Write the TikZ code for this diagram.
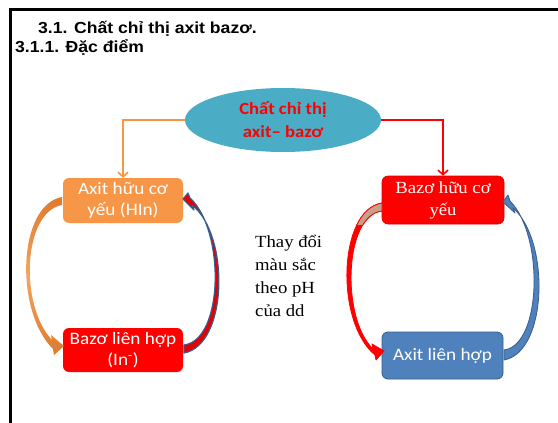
\documentclass[tikz,border=0pt]{standalone}
\usepackage{fontspec}
\setmainfont{Liberation Serif}[FakeStretch=1.1]
\newfontfamily\arialf{Liberation Sans}[FakeStretch=1.1]
\newfontfamily\calf{Carlito}[FakeStretch=1.1]
\usetikzlibrary{arrows.meta,shapes.geometric}
\definecolor{orgbox}{HTML}{F79646}
\definecolor{orgdark}{HTML}{DD7A2E}
\definecolor{orglight}{HTML}{F6A45C}
\definecolor{tealc}{HTML}{4BACC6}
\definecolor{bluec}{HTML}{4F81BD}
\definecolor{bluedark}{HTML}{385D8A}
\definecolor{redc}{HTML}{FF0000}
\definecolor{tanc}{HTML}{C9A08A}
\tikzset{
  boxbase/.style={rectangle, rounded corners=6pt, inner sep=0pt, align=center, text=white},
  calbox/.style={boxbase, font=\calf\fontsize{17.5}{21.5}\selectfont},
  timbox/.style={boxbase, font=\fontsize{17}{22}\selectfont},
  conn/.style={line width=2pt, -{Straight Barb[length=4.5pt,width=10pt,line width=1.6pt]}},
}
\begin{document}
\begin{tikzpicture}[x=1pt,y=-1pt]
\useasboundingbox (0,0) rectangle (558,423);
\fill[white] (0,0) rectangle (558,423);
% frame
\draw[line width=2.6pt] (10.7,423) -- (10.7,9.3) -- (558,9.3);
% titles
\node[anchor=base west, inner sep=0pt, font=\arialf\bfseries\fontsize{16}{19}\selectfont] (t1) at (38,33.5) {3.1. Chất chỉ thị axit bazơ.};
\node[anchor=base west, inner sep=0pt, font=\arialf\bfseries\fontsize{16}{19}\selectfont] (t2) at (15,52.7) {3.1.1. Đặc điểm};
% ellipse
\node[ellipse, fill=tealc, minimum width=196pt, minimum height=64pt, inner sep=0pt, align=center,
  text=redc, font=\calf\bfseries\fontsize{17}{23}\selectfont] (ell) at (283,120) {Chất chỉ thị\\axit– bazơ};
% boxes
\node[calbox, fill=orgbox, minimum width=120pt, minimum height=45pt] (hin) at (123,200.5) {Axit hữu cơ\\yếu (HIn)};
\node[calbox, fill=redc, minimum width=120pt, minimum height=44pt] (inm) at (123,350) {Bazơ liên hợp\\(In\textsuperscript{-})};
\node[timbox, fill=redc, draw=red!85!black, line width=0.6pt, minimum width=122pt, minimum height=48pt] (bz) at (443,200) {Bazơ hữu cơ\\yếu};
\node[calbox, fill=bluec, draw=bluedark, line width=0.8pt, minimum width=121pt, minimum height=47pt] (al) at (442.5,355.5) {Axit liên hợp};
% middle text
\node[anchor=north west, inner sep=0pt, align=left, font=\fontsize{17}{23}\selectfont] (mid) at (255,235) {Thay đổi\\màu sắc\\theo pH\\của dd};
% connectors
\draw[conn, draw=orgbox] (ell.west) -| (hin.north);
\draw[conn, draw=redc] (ell.east) -| (bz.north);
% left pair: orange curved arrow (HIn -> In-)
\shade[top color=orgdark, bottom color=orgdark, middle color=orglight]
  (62,197) .. controls (18,205) and (14,310) .. (53,349) -- (54,355) -- (64,346) -- (51,335) -- (52,340)
  .. controls (19,305) and (23,212) .. (62,205) -- cycle;
% left pair: red/blue curved arrow (In- -> HIn)
\filldraw[fill=red!90!black, draw=bluedark, line width=1.2pt, line join=round]
  (184,353) .. controls (228,345) and (230,235) .. (192,205) -- (194,210) -- (183,199) -- (188,193) -- (190,198)
  .. controls (225,230) and (224,340) .. (184,345) -- cycle;
% right pair: red curved arrow (Bazo -> Axit)
\filldraw[fill=redc, draw=redc, line width=0.8pt, line join=round]
  (382,203) .. controls (338,210) and (335,322) .. (375,355) -- (376,360) -- (384,351) -- (372,344) -- (373,349)
  .. controls (341,318) and (344,215) .. (382,211) -- cycle;
\begin{scope}
\clip (330,195) rectangle (383,224);
\filldraw[fill=tanc, draw=redc, line width=0.8pt]
  (382,203) .. controls (338,210) and (335,322) .. (375,355) -- (376,360) -- (384,351) -- (372,344) -- (373,349)
  .. controls (341,318) and (344,215) .. (382,211) -- cycle;
\end{scope}
% right pair: blue curved arrow (Axit -> Bazo)
\filldraw[fill=bluec, draw=bluedark, line width=0.8pt, line join=round]
  (504,360) .. controls (548,352) and (550,240) .. (513,208) -- (515,213) -- (503,202) -- (508,195) -- (510,201)
  .. controls (544,235) and (542,345) .. (504,350) -- cycle;
\end{tikzpicture}
\end{document}
